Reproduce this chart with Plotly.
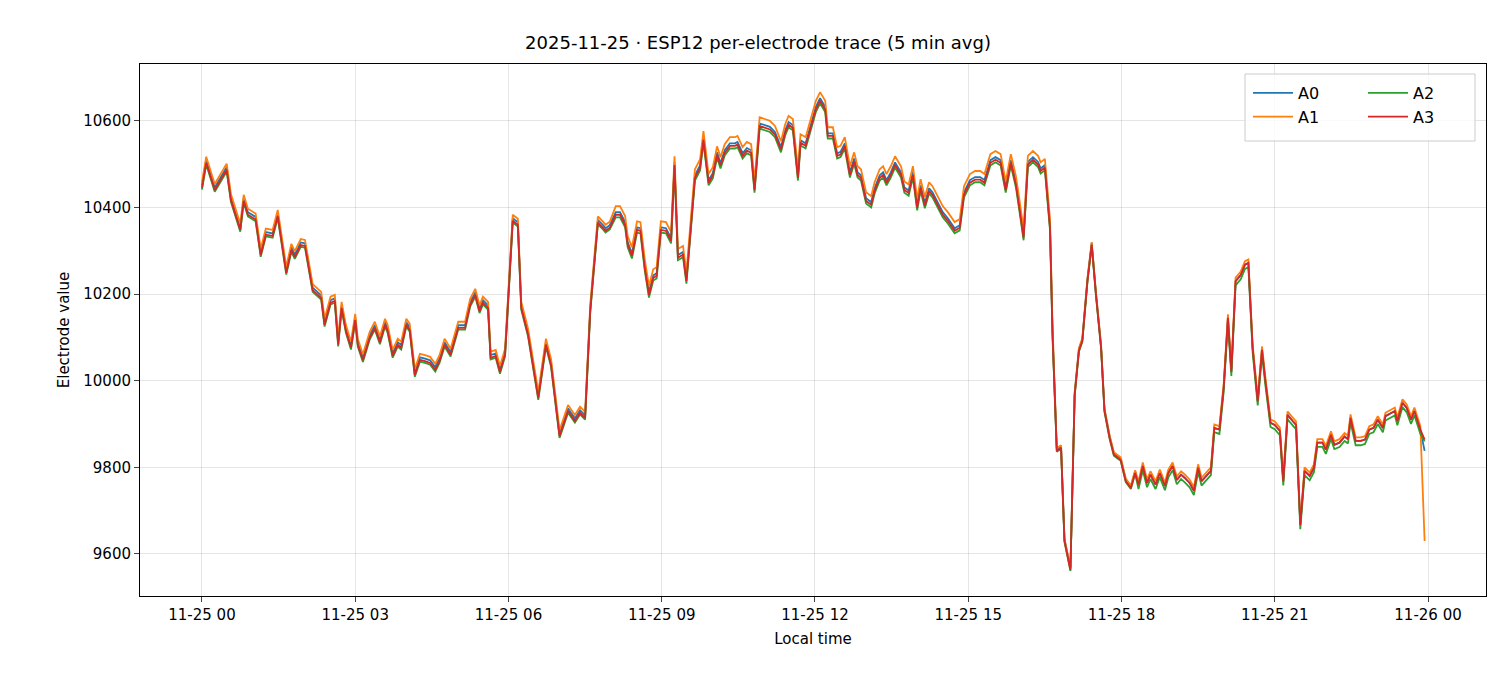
import plotly.graph_objects as go
import pandas as pd

# minutes after 2025-11-25 00:00
minutes = [0,5,15,29,34,45,49,54,63,69,75,83,89,99,105,109,116,121,130,140,144,151,156,160,164,169,175,180,183,189,197,203,209,215,218,224,230,234,240,244,250,256,262,268,274,279,285,292,301,309,315,321,326,330,336,339,345,350,356,365,371,375,383,395,404,410,420,430,438,444,450,456,459,465,471,474,479,486,491,497,500,505,511,515,520,525,530,534,539,545,551,555,559,565,569,574,579,585,589,595,600,605,609,614,620,626,629,635,640,645,649,655,661,667,673,680,685,689,694,700,703,709,715,721,726,732,735,741,746,750,755,761,766,770,774,780,786,790,796,800,804,809,814,821,825,830,835,840,844,849,854,858,864,870,876,884,890,895,902,908,914,919,926,932,938,944,950,956,960,965,970,976,982,985,990,996,999,1004,1009,1013,1020,1025,1030,1034,1040,1045,1050,1056,1060,1066,1071,1079,1085,1091,1096,1100,1105,1110,1114,1120,1125,1131,1135,1140,1145,1150,1154,1160,1165,1170,1174,1180,1185,1189,1195,1200,1205,1209,1214,1220,1225,1229,1234,1240,1245,1249,1255,1260,1266,1270,1275,1281,1285,1290,1295,1301,1306,1310,1316,1320,1326,1330,1336,1342,1346,1349,1355,1361,1366,1371,1376,1381,1387,1390,1401,1404,1410,1415,1420,1424,1431,1436]

A3 = [10445,10503,10440,10487,10417,10348,10415,10383,10372,10290,10337,10334,10380,10249,10302,10285,10313,10311,10209,10191,10129,10180,10184,10083,10168,10115,10076,10140,10083,10047,10099,10122,10088,10129,10115,10057,10083,10076,10129,10117,10013,10048,10045,10041,10025,10045,10083,10060,10122,10122,10175,10198,10160,10180,10168,10053,10057,10020,10060,10369,10360,10168,10106,9960,10083,10036,9872,9930,9907,9926,9914,10160,10230,10365,10353,10346,10353,10383,10383,10360,10314,10288,10348,10346,10261,10198,10237,10242,10348,10346,10323,10498,10284,10291,10230,10353,10468,10491,10556,10457,10473,10521,10496,10526,10542,10542,10545,10519,10531,10526,10440,10588,10584,10580,10568,10533,10572,10591,10584,10468,10549,10542,10584,10626,10646,10626,10565,10565,10519,10522,10542,10475,10507,10475,10468,10415,10406,10438,10468,10475,10457,10475,10498,10475,10440,10433,10475,10399,10445,10404,10438,10429,10406,10383,10369,10346,10353,10429,10457,10464,10464,10457,10503,10510,10503,10440,10503,10452,10399,10330,10499,10510,10499,10484,10492,10353,10106,9838,9845,9630,9563,9967,10069,10092,10230,10314,10198,10076,9930,9868,9829,9817,9768,9752,9787,9760,9803,9764,9783,9760,9787,9757,9787,9803,9771,9783,9776,9764,9746,9799,9768,9780,9792,9891,9887,9984,10145,10021,10230,10244,10268,10272,10076,9953,10071,9999,9903,9898,9884,9768,9921,9907,9898,9667,9792,9780,9799,9857,9857,9841,9875,9852,9857,9871,9865,9914,9861,9861,9864,9887,9891,9910,9891,9918,9930,9907,9949,9937,9910,9930,9887,9864]

# offsets of other electrodes relative to A3, per segment (segment start minute, offset)
seg_start = [0, 480, 1000, 1100]
A0_off = [6, 6, 4, 0]
A1_off = [14, 20, 6, 8]
A2_off = [-4, -6, -2, -10]
A0_last, A1_last, A2_last = 9838, 9630, 9860

def build(off, last):
    out = []
    for m, v in zip(minutes, A3):
        k = max(i for i, s in enumerate(seg_start) if m >= s)
        out.append(v + off[k])
    out[-1] = last
    return out

series = {
    "A0": (build(A0_off, A0_last), "#1f77b4", "legend"),
    "A1": (build(A1_off, A1_last), "#ff7f0e", "legend"),
    "A2": (build(A2_off, A2_last), "#2ca02c", "legend2"),
    "A3": (A3, "#d62728", "legend2"),
}

t = pd.Timestamp("2025-11-25 00:00") + pd.to_timedelta(minutes, unit="min")

fig = go.Figure()
for name, (vals, col, lg) in series.items():
    fig.add_trace(go.Scatter(x=t, y=vals, mode="lines", name=name,
                             line=dict(color=col, width=1.8), legend=lg))

x0 = pd.Timestamp("2025-11-25 00:00") - pd.Timedelta(hours=1.213)
x1 = pd.Timestamp("2025-11-26 00:00") + pd.Timedelta(hours=1.135)

# legend frame (paper coords); plot area 1346 x 532 px
fig.add_shape(type="rect", xref="paper", yref="paper",
              x0=(1237-132)/1346, x1=(1467-132)/1346,
              y0=(588-133)/532, y1=(588-66)/532,
              line=dict(color="#cccccc", width=1), fillcolor="rgba(255,255,255,0.8)",
              layer="above")

legfont = dict(size=16)
fig.update_layout(
    width=1500, height=675,
    margin=dict(l=132, r=22, t=56, b=87),
    paper_bgcolor="white", plot_bgcolor="white",
    font=dict(family="DejaVu Sans", size=15, color="black"),
    title=dict(text="2025-11-25 · ESP12 per-electrode trace (5 min avg)",
               x=0.5, xanchor="center", y=1 - 35/675, yanchor="middle",
               font=dict(size=18)),
    xaxis=dict(range=[x0, x1], tickformat="%m-%d %H", dtick=3*3600*1000,
               tick0="2025-11-25 00:00", showgrid=True, gridcolor="rgba(0,0,0,0.1)",
               showline=True, linecolor="black", mirror=True, ticks="outside",
               ticklen=5, automargin=False, zeroline=False,
               title=dict(text="Local time", standoff=10, font=dict(size=15))),
    yaxis=dict(range=[9503, 10731], dtick=200, tickformat="d", showgrid=True,
               gridcolor="rgba(0,0,0,0.1)", showline=True, linecolor="black",
               mirror=True, ticks="outside", ticklen=5, automargin=False, zeroline=False,
               title=dict(text="Electrode value", standoff=10, font=dict(size=15))),
    legend=dict(x=(1240-132)/1346, y=(588-68)/532, xanchor="left", yanchor="top",
                bgcolor="rgba(0,0,0,0)", borderwidth=0, font=legfont,
                tracegroupgap=0, itemwidth=40),
    legend2=dict(x=(1355-132)/1346, y=(588-68)/532, xanchor="left", yanchor="top",
                 bgcolor="rgba(0,0,0,0)", borderwidth=0, font=legfont,
                 tracegroupgap=0, itemwidth=40),
)
fig.write_html("out.html")
